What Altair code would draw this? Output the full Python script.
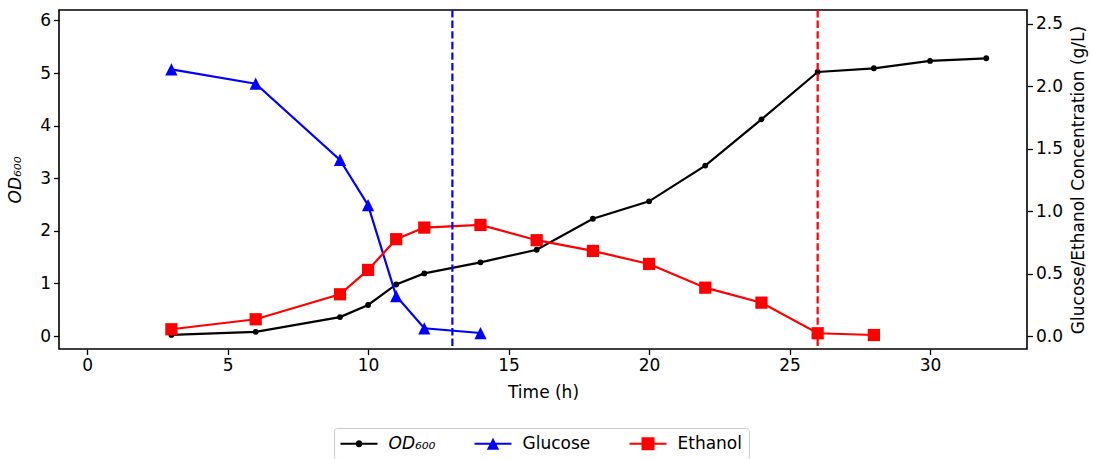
import altair as alt
import pandas as pd

# Fermentation time course
time_od = [3, 6, 9, 10, 11, 12, 14, 16, 18, 20, 22, 24, 26, 28, 30, 32]
od600 = [0.02, 0.08, 0.36, 0.59, 0.98, 1.19, 1.40, 1.64, 2.23, 2.56, 3.24, 4.12, 5.02, 5.09, 5.23, 5.28]

time_glc = [3, 6, 9, 10, 11, 12, 14]
glucose = [2.135, 2.02, 1.41, 1.047, 0.32, 0.062, 0.024]

time_eth = [3, 6, 9, 10, 11, 12, 14, 16, 18, 20, 22, 24, 26, 28]
ethanol = [0.054, 0.134, 0.334, 0.529, 0.775, 0.868, 0.889, 0.767, 0.681, 0.577, 0.387, 0.267, 0.022, 0.008]

glucose_depleted = [13]
ethanol_depleted = [26]

series_names = ["OD₆₀₀", "Glucose", "Ethanol"]
series_colors = ["black", "blue", "red"]

FONT = "DejaVu Sans"
FS = 17

od_df = pd.DataFrame({"t": time_od, "v": od600})
glc_df = pd.DataFrame({"t": time_glc, "v": glucose})
eth_df = pd.DataFrame({"t": time_eth, "v": ethanol})

x_scale = alt.Scale(domain=[-1, 33.45], nice=False, zero=False)
x_axis = alt.Axis(values=[0, 5, 10, 15, 20, 25, 30], title="Time (h)", format="d",
                  titlePadding=11)
x_enc = alt.X("t:Q", scale=x_scale, axis=x_axis)

left_scale = alt.Scale(domain=[-0.247, 6.198], nice=False, zero=False)
left_axis = alt.Axis(values=[0, 1, 2, 3, 4, 5, 6], format="d", title="OD₆₀₀",
                     titleFontStyle="italic", orient="left", titlePadding=15)
right_scale = alt.Scale(domain=[-0.104, 2.61], nice=False, zero=False)
right_axis = alt.Axis(values=[0, 0.5, 1.0, 1.5, 2.0, 2.5], format=".1f",
                      title="Glucose/Ethanol Concentration (g/L)", orient="right",
                      titleAngle=270, titleBaseline="top", titlePadding=8)

# OD600 on the left axis
od_base = alt.Chart(od_df).encode(x=x_enc, y=alt.Y("v:Q", scale=left_scale, axis=left_axis))
od_layer = alt.layer(
    od_base.mark_line(color="black", strokeWidth=2.2),
    od_base.mark_point(filled=True, color="black", opacity=1, size=34, shape="circle"),
)

# Glucose and ethanol share the right axis
tri = "M0,-1L1,1L-1,1Z"
y_right = alt.Y("v:Q", scale=right_scale, axis=right_axis)
glc_base = alt.Chart(glc_df).encode(x=x_enc, y=y_right)
eth_base = alt.Chart(eth_df).encode(x=x_enc, y=y_right)
conc_layer = alt.layer(
    glc_base.mark_line(color="blue", strokeWidth=2.2),
    glc_base.mark_point(filled=True, color="blue", opacity=1, size=150, shape=tri),
    eth_base.mark_line(color="red", strokeWidth=2.2),
    eth_base.mark_point(filled=True, color="red", opacity=1, size=150, shape="square"),
)

# Depletion markers
glc_rule = alt.Chart(pd.DataFrame({"t": glucose_depleted})).mark_rule(
    color="blue", strokeWidth=2.2, strokeDash=[7.4, 3.2]
).encode(x=alt.X("t:Q", scale=x_scale))
eth_rule = alt.Chart(pd.DataFrame({"t": ethanol_depleted})).mark_rule(
    color="red", strokeWidth=2.2, strokeDash=[7.4, 3.2]
).encode(x=alt.X("t:Q", scale=x_scale))

# Legend keys: line segment with the series marker
u = 7.0  # px per symbol unit (symbol box is 14 px)
half = 18.5 / u
lw = 1.1 / u
line_seg = f"M{-half:.3f},{-lw:.3f}H{half:.3f}V{lw:.3f}H{-half:.3f}Z"
r = 3.5 / u
circle = f"M{r:.3f},0A{r:.3f},{r:.3f},0,1,1,{-r:.3f},0A{r:.3f},{r:.3f},0,1,1,{r:.3f},0Z"
tw, th = 6.2 / u, 6.0 / u
triangle = f"M0,{-th:.3f}L{tw:.3f},{th:.3f}L{-tw:.3f},{th:.3f}Z"
sq = 6.5 / u
square = f"M{-sq:.3f},{-sq:.3f}H{sq:.3f}V{sq:.3f}H{-sq:.3f}Z"
legend_shapes = [line_seg + circle, line_seg + triangle, line_seg + square]

legend_cfg = alt.Legend(
    title=None, orient="none", legendX=275, legendY=418, direction="horizontal",
    columns=3, symbolSize=196, symbolStrokeWidth=0, symbolOpacity=1,
    symbolOffset=9.5, labelOffset=21, columnPadding=38,
    labelFont=FONT, labelFontSize=FS, labelColor="black", labelLimit=300,
    labelFontStyle=alt.ExprRef("datum.label == 'OD₆₀₀' ? 'italic' : 'normal'"),
    fillColor="white", strokeColor="#cccccc", cornerRadius=3, padding=7,
)
legend_layer = alt.Chart(pd.DataFrame({"series": series_names})).mark_point(
    filled=True, opacity=0
).encode(
    color=alt.Color("series:N", scale=alt.Scale(domain=series_names, range=series_colors),
                    legend=legend_cfg),
    shape=alt.Shape("series:N", scale=alt.Scale(domain=series_names, range=legend_shapes),
                    legend=legend_cfg),
)

chart = alt.layer(od_layer, conc_layer, glc_rule, eth_rule, legend_layer).resolve_scale(
    y="independent"
).properties(
    width=968, height=339,
    padding={"left": 59, "top": 10, "right": 67, "bottom": 110},
    autosize=alt.AutoSizeParams(type="none"),
).configure_view(
    stroke="black", strokeWidth=1.6
).configure_axis(
    grid=False, domain=False, ticks=True, tickColor="black", tickWidth=1.3, tickSize=5.5,
    labelFont=FONT, labelFontSize=FS, labelColor="black", labelPadding=3,
    titleFont=FONT, titleFontSize=FS, titleFontWeight="normal", titleColor="black",
)

chart.save("out.html", embed_options={"renderer": "svg", "actions": False})
